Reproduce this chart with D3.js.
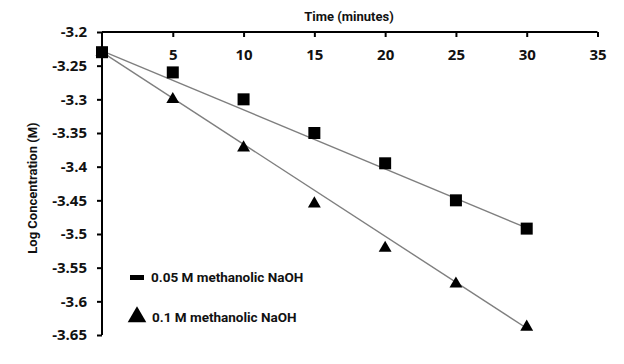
<!DOCTYPE html>
<html><head><meta charset="utf-8">
<script src="https://cdn.jsdelivr.net/npm/d3@7"></script>
<style>
html,body{margin:0;padding:0;background:#fff;}
svg{display:block;}
.tick text{font-family:"Open Sans",sans-serif;font-weight:700;font-size:15px;fill:#111;}
.lab{font-family:Roboto,"Liberation Sans",sans-serif;font-weight:bold;font-size:13px;fill:#111;}
.leg{font-size:13.5px;}
</style></head>
<body>
<svg id="c" width="624" height="364"></svg>
<script>
const times = [0, 5, 10, 15, 20, 25, 30];
const seriesLow = [-3.23, -3.26, -3.30, -3.35, -3.395, -3.45, -3.492];   // 0.05 M
const seriesHigh = [-3.23, -3.30, -3.372, -3.455, -3.521, -3.574, -3.638]; // 0.1 M
const trendTimes = [0, 30];
const trendLow = [-3.228, -3.491];
const trendHigh = [-3.23, -3.64];
const xTicks = [5, 10, 15, 20, 25, 30, 35];
const yTicks = [-3.2, -3.25, -3.3, -3.35, -3.4, -3.45, -3.5, -3.55, -3.6, -3.65];
const labelLow = "0.05 M methanolic NaOH";
const labelHigh = "0.1 M methanolic NaOH";
const xTitle = "Time (minutes)";
const yTitle = "Log Concentration (M)";

const svg = d3.select("#c");
const x = d3.scaleLinear().domain([0, 35]).range([102, 597.5]);
const y = d3.scaleLinear().domain([-3.2, -3.65]).range([32, 335]);

// trend lines
const line = d3.line().x(d => x(d[0])).y(d => y(d[1]));
[trendLow, trendHigh].forEach(tr => {
  svg.append("path").attr("d", line(trendTimes.map((t, i) => [t, tr[i]])))
    .attr("fill", "none").attr("stroke", "#7f7f7f").attr("stroke-width", 1.4);
});

// axes
const xAxis = d3.axisTop(x).tickValues(xTicks).tickSizeInner(-5).tickSizeOuter(0);
const gx = svg.append("g").attr("transform", "translate(0,32)").call(xAxis);
gx.select(".domain").attr("stroke", "#000").attr("stroke-width", 2).attr("d", `M${x(0)},0H${x(35)}`);
gx.selectAll(".tick line").attr("stroke", "#000").attr("stroke-width", 2);
gx.selectAll(".tick text").attr("dy", "0.35em").attr("y", 23);

const yAxis = d3.axisLeft(y).tickValues(yTicks).tickSize(5).tickPadding(10);
const gy = svg.append("g").attr("transform", "translate(102,0)").call(yAxis);
gy.select(".domain").attr("stroke", "#000").attr("stroke-width", 2).attr("d", `M0,${y(-3.2)}V${y(-3.65)}`);
gy.selectAll(".tick line").attr("stroke", "#000").attr("stroke-width", 2);
gy.selectAll(".tick text").text(d => String(+d.toFixed(2)));

// markers
const tri = d3.symbol().type(d3.symbolTriangle).size(72);
svg.append("g").selectAll("path").data(times.map((t, i) => [t, seriesHigh[i]])).join("path")
  .attr("d", tri).attr("transform", d => `translate(${x(d[0])},${y(d[1])})`).attr("fill", "#000");
svg.append("g").selectAll("rect").data(times.map((t, i) => [t, seriesLow[i]])).join("rect")
  .attr("x", d => x(d[0]) - 6).attr("y", d => y(d[1]) - 6).attr("width", 12).attr("height", 12).attr("fill", "#000");

// titles
svg.append("text").attr("class", "lab").attr("x", 349).attr("y", 21).attr("text-anchor", "middle").text(xTitle);
svg.append("text").attr("class", "lab").attr("transform", "translate(37,188) rotate(-90)").attr("text-anchor", "middle").text(yTitle);

// legend
svg.append("rect").attr("x", 130).attr("y", 275).attr("width", 14).attr("height", 5).attr("fill", "#000");
svg.append("text").attr("class", "lab leg").attr("x", 151).attr("y", 282).text(labelLow);
svg.append("path").attr("d", d3.symbol().type(d3.symbolTriangle).size(150)).attr("transform", "translate(137,317)").attr("fill", "#000");
svg.append("text").attr("class", "lab leg").attr("x", 152).attr("y", 322).text(labelHigh);
</script>
</body></html>
